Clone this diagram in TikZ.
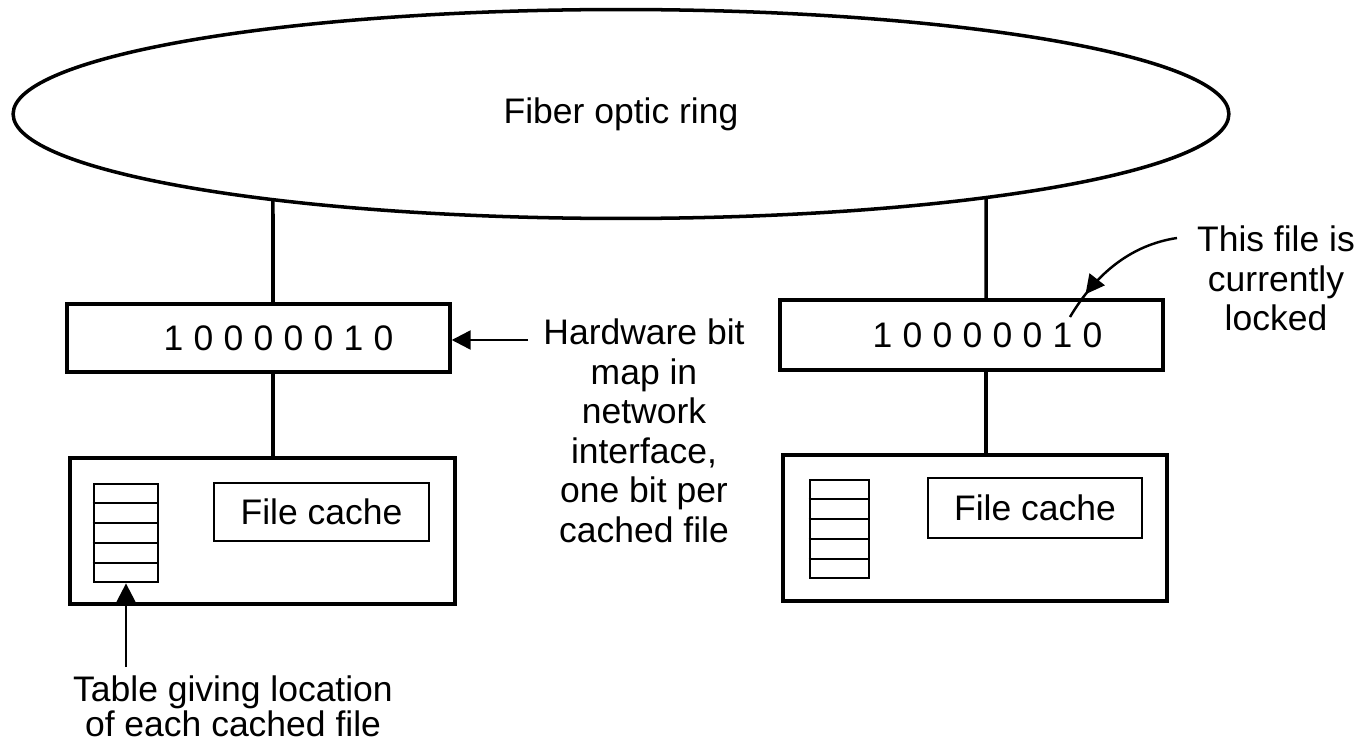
\documentclass[tikz,border=0pt]{standalone}
\usepackage{fontspec}
\setmainfont{Liberation Sans}
\newfontfamily\bitfont[LetterSpace=29]{Liberation Sans}
\usetikzlibrary{shapes.geometric,arrows.meta,calc,intersections,decorations.markings}

\begin{document}
\begin{tikzpicture}[x=0.02cm,y=-0.02cm,line width=2pt,
  every node/.style={inner sep=0pt,font=\fontsize{20.2}{22.5}\selectfont},
  box/.style={draw,rectangle},
  tip/.style={-{Triangle[length=0.38cm,width=0.38cm]},line width=1.4pt}]
\useasboundingbox (0,0) rectangle (1360,743);
% the ring
\node[draw,ellipse,name path=ringp,minimum width=24.32cm,minimum height=4.18cm] (ring) at (621,114) {Fiber optic ring};
% left station
\node[box,minimum width=7.66cm,minimum height=1.36cm] (lbits) at (258.5,338) {\hspace*{0.8cm}\bitfont 10000010};
\node[box,minimum width=7.7cm,minimum height=2.92cm] (lhost) at (262.5,531) {};
\node[box,line width=1.6pt,minimum width=1.28cm,minimum height=1.96cm] (ltab) at (126,533) {};
\node[box,line width=1.6pt,minimum width=4.3cm,minimum height=1.16cm] (lcache) at (321.5,512) {File cache};
\foreach \k in {1,...,4}
  \draw[line width=1.4pt] ($(ltab.north west)!\k/5!(ltab.south west)$) -- ($(ltab.north east)!\k/5!(ltab.south east)$);
% right station
\node[box,minimum width=7.66cm,minimum height=1.4cm] (rbits) at (971.5,335) {\hspace*{0.64cm}\bitfont 10000010};
\node[box,minimum width=7.68cm,minimum height=2.92cm] (rhost) at (975,528) {};
\node[box,line width=1.6pt,minimum width=1.18cm,minimum height=1.96cm] (rtab) at (839.5,529) {};
\node[box,line width=1.6pt,minimum width=4.28cm,minimum height=1.2cm] (rcache) at (1035,508) {File cache};
\foreach \k in {1,...,4}
  \draw[line width=1.4pt] ($(rtab.north west)!\k/5!(rtab.south west)$) -- ($(rtab.north east)!\k/5!(rtab.south east)$);
% taps onto the ring
\coordinate (ltap) at (273,0);
\coordinate (rtap) at (986,0);
\path[name path=lup] (ltap |- lbits.north) -- (ltap |- ring.center);
\path[name path=rup] (rtap |- rbits.north) -- (rtap |- ring.center);
\draw[name intersections={of=ringp and lup,by=lring}] (ltap |- lbits.north) -- (lring);
\draw[name intersections={of=ringp and rup,by=rring}] (rtap |- rbits.north) -- (rring);
\draw (ltap |- lbits.south) -- (ltap |- lhost.north);
\draw (rtap |- rbits.south) -- (rtap |- rhost.north);
% labels
\node[align=center,anchor=north] (hwlbl) at (644,317) {Hardware bit\\map in\\network\\interface,\\one bit per\\cached file};
\node[align=center,anchor=north] (tablbl) at (233,674) {Table giving location\\[-0.1cm]of each cached file};
\node[align=center,anchor=north] (locklbl) at (1276,224) {This file is\\currently\\locked};
\coordinate (hwtail) at (528,340);
\draw[tip] (hwtail) -- (lbits.east |- hwtail);
\coordinate (tabtail) at (126,667);
\draw[tip] (tabtail) -- (ltab.south);
\coordinate (locktail) at (1177,238);
\coordinate (lockend) at (1070,317);
\draw[line width=1.4pt,postaction={decorate},
  decoration={markings,mark=at position 0.8 with {\arrow{Triangle[length=0.38cm,width=0.38cm]}}}]
  (locktail) .. controls (1130,245) and (1095,275) .. (lockend);
\end{tikzpicture}
\end{document}
